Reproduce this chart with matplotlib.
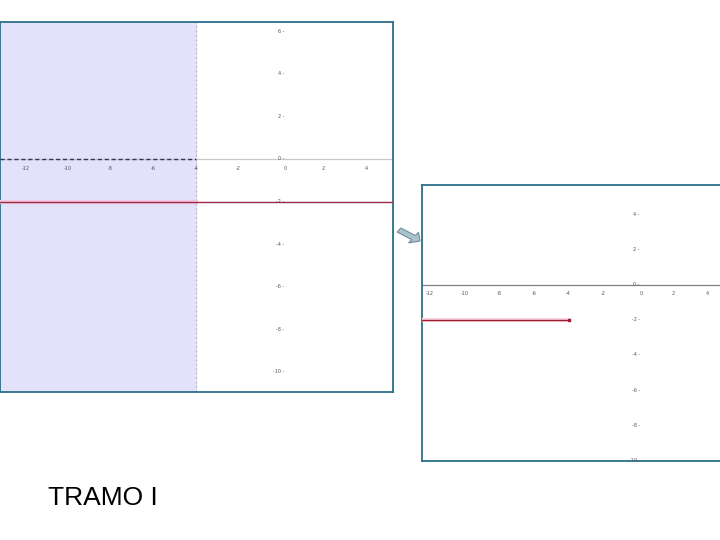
import numpy as np
import matplotlib.pyplot as plt
from matplotlib.patches import FancyArrow

# data
x_ticks = [-12, -10, -8, -6, -4, -2, 0, 2, 4]
y_ticks_left = [6, 4, 2, 0, -2, -4, -6, -8, -10]
y_ticks_right = [4, 2, 0, -2, -4, -6, -8, -10]
line_y = -2          # y = -2
boundary_x = -4      # tramo x < -4
title = "TRAMO I"

W, H = 720, 540
fig = plt.figure(figsize=(7.2, 5.4), dpi=100)
fig.patch.set_facecolor('white')


def px_axes(x0, y0, x1, y1):
    # pixel box (top-left origin) -> axes
    return fig.add_axes([x0 / W, 1 - y1 / H, (x1 - x0) / W, (y1 - y0) / H])


def draw_panel(ax, xlim, ylim, yticks, axis_col, shade, ylab_x):
    ax.set_xlim(*xlim)
    ax.set_ylim(*ylim)
    ax.set_xticks([])
    ax.set_yticks([])
    for s in ax.spines.values():
        s.set_color('#2b6f8c')
        s.set_linewidth(1.3)
    ax.axhline(0, color=axis_col, lw=0.9, zorder=2)
    for xt in x_ticks:
        ax.text(xt + (0.2 if xt == 0 else 0), -0.35, f'{xt}', fontsize=3.5,
                color='#555555', ha='center', va='top')
    for yt in yticks:
        ax.text(ylab_x, yt, f'{yt} -', fontsize=3.5, color='#555555',
                ha='right', va='center')
    if shade:
        ax.axvspan(xlim[0], boundary_x, color='#e2e2fa', zorder=0)
        ax.axvline(boundary_x, color='#b8b8c8', lw=0.8, ls=(0, (2, 2)), zorder=1)
        ax.plot([xlim[0], boundary_x], [0, 0], color='#333366', lw=1.0,
                ls=(0, (3, 2)), zorder=3)


# left panel
axl = px_axes(0, 22, 393, 392)
draw_panel(axl, (-13.2, 5.27), (-10.94, 6.43), y_ticks_left, '#c8c8c8', True, 0.15)
axl.plot([-13.2, boundary_x], [line_y, line_y], color='#f4c8e0', lw=3.0, zorder=3)
axl.axhline(line_y, color='#9c2a4a', lw=1.0, zorder=4)

# right panel
axr = px_axes(422, 185, 722, 461)
draw_panel(axr, (-12.45, 4.84), (-10.05, 5.7), y_ticks_right, '#808080', False, 0.1)
axr.plot([-12.45, boundary_x], [line_y, line_y], color='#f8d8e4', lw=3.0, zorder=3)
axr.plot([-12.45, boundary_x], [line_y, line_y], color='#9c1a2a', lw=1.0, zorder=4)
axr.plot([boundary_x], [line_y], 's', ms=2, color='#9c1a2a', zorder=5)

# arrow between panels
arr = FancyArrow(399 / W, 1 - 230 / H, 21 / W, -11 / H, width=0.009, head_width=0.024,
                 head_length=0.011, length_includes_head=True, transform=fig.transFigure,
                 facecolor='#a9c4cc', edgecolor='#6f8e9a', lw=0.8)
fig.patches.append(arr)

fig.text(48 / W, 1 - 498 / H, title, fontsize=19, family='Liberation Sans',
         ha='left', va='center', color='black')

fig.savefig('out.png', dpi=100)
